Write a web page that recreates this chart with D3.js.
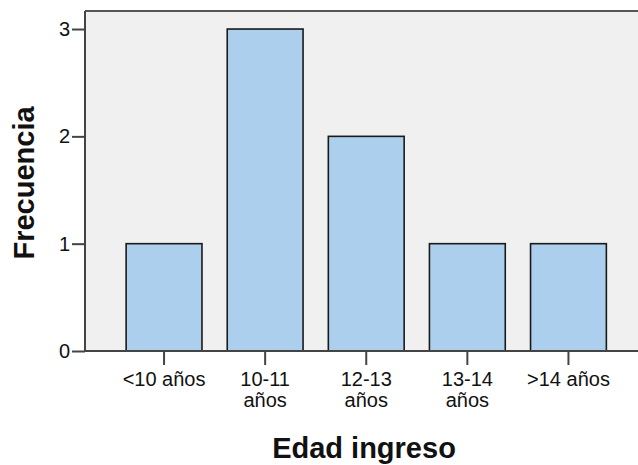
<!DOCTYPE html>
<html>
<head>
<meta charset="utf-8">
<script src="https://d3js.org/d3.v7.min.js"></script>
<style>
  body { margin: 0; background: #fff; }
  text { font-family: Arial, "Liberation Sans", sans-serif; fill: #111; }
</style>
</head>
<body>
<div id="chart"></div>
<script>
// data
var categories = ["<10 años", "10-11 años", "12-13 años", "13-14 años", ">14 años"];
var counts = [1, 3, 2, 1, 1];
var yTicks = [0, 1, 2, 3];

var W = 638, H = 465;
var plot = {left: 85, top: 11, right: 638, bottom: 351};

var svg = d3.select("#chart").append("svg")
    .attr("width", W)
    .attr("height", H);

// plot background
svg.append("rect")
    .attr("x", plot.left).attr("y", plot.top)
    .attr("width", plot.right - plot.left)
    .attr("height", plot.bottom - plot.top)
    .attr("fill", "#f0f0f0");

var x = d3.scaleBand()
    .domain(categories)
    .range([113.5, 619])
    .paddingInner(0.25)
    .paddingOuter(0.125);

var y = d3.scaleLinear()
    .domain([0, 3.168])
    .range([plot.bottom, plot.top]);

// bars
svg.append("g").selectAll("rect")
    .data(counts)
    .enter()
    .append("rect")
      .attr("x", function(d, i) { return x(categories[i]); })
      .attr("y", function(d) { return y(d); })
      .attr("width", x.bandwidth())
      .attr("height", function(d) { return y(0) - y(d); })
      .attr("fill", "#accfed")
      .attr("stroke", "#1a1a1a")
      .attr("stroke-width", 1.6);

// top frame line
svg.append("line")
    .attr("x1", plot.left).attr("x2", plot.right)
    .attr("y1", plot.top).attr("y2", plot.top)
    .attr("stroke", "#555").attr("stroke-width", 2);

// y axis
var yAxis = svg.append("g")
    .attr("transform", "translate(" + plot.left + ",0)")
    .call(d3.axisLeft(y).tickValues(yTicks).tickFormat(d3.format("d")).tickSize(13).tickPadding(2));
yAxis.select(".domain").attr("stroke", "#444").attr("stroke-width", 2)
    .attr("d", "M0," + plot.top + "V" + plot.bottom);
yAxis.selectAll(".tick line").attr("stroke", "#444").attr("stroke-width", 2);
yAxis.selectAll(".tick text").style("font-size", "20px").attr("fill", "#111");

// x axis
var xAxis = svg.append("g")
    .attr("transform", "translate(0," + plot.bottom + ")")
    .call(d3.axisBottom(x).tickSize(14).tickPadding(7));
xAxis.select(".domain").attr("stroke", "#444").attr("stroke-width", 2)
    .attr("d", "M" + plot.left + ",0H" + plot.right);
xAxis.selectAll(".tick line").attr("stroke", "#444").attr("stroke-width", 2);
xAxis.selectAll(".tick text")
    .style("font-size", "20px")
    .attr("fill", "#111")
    .call(wrap, 95);

function wrap(sel, width) {
  sel.each(function() {
    var t = d3.select(this);
    var words = t.text().split(" ");
    var yy = t.attr("y"), dy = t.attr("dy");
    t.text(null);
    var line = [], lineNo = 0;
    var tspan = t.append("tspan").attr("x", 0).attr("y", yy).attr("dy", dy);
    words.forEach(function(w) {
      line.push(w);
      tspan.text(line.join(" "));
      if (tspan.node().getComputedTextLength() > width && line.length > 1) {
        line.pop();
        tspan.text(line.join(" "));
        line = [w];
        lineNo++;
        tspan = t.append("tspan").attr("x", 0).attr("y", yy)
          .attr("dy", (lineNo * 1.05) + 0.71 + "em").text(w);
      }
    });
  });
}

// axis titles
svg.append("text")
    .attr("transform", "translate(34," + 183 + ") rotate(-90)")
    .attr("text-anchor", "middle")
    .style("font-size", "29px")
    .style("font-weight", "bold")
    .text("Frecuencia");

svg.append("text")
    .attr("x", 364)
    .attr("y", 458)
    .attr("text-anchor", "middle")
    .style("font-size", "29px")
    .style("font-weight", "bold")
    .text("Edad ingreso");
</script>
</body>
</html>
